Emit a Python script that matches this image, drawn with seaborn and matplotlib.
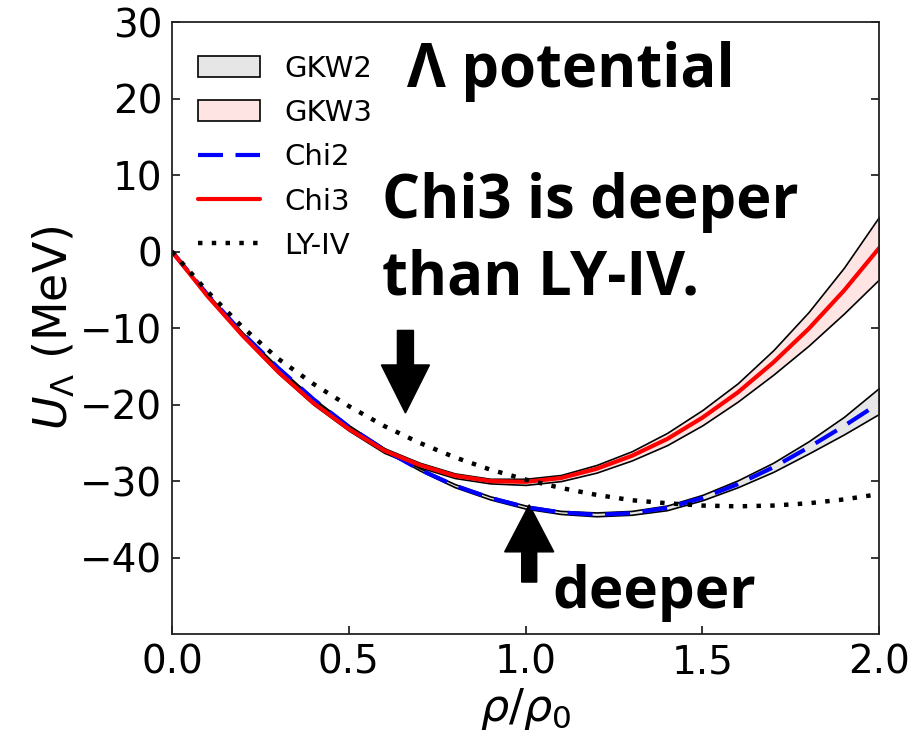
import numpy as np
import matplotlib
matplotlib.use("Agg")
import matplotlib.pyplot as plt
from matplotlib import font_manager as fm
import seaborn as sns
import pandas as pd

# density grid rho/rho0
rho = [0.0, 0.1, 0.2, 0.3, 0.4, 0.5, 0.6, 0.7, 0.8, 0.9, 1.0,
       1.1, 1.2, 1.3, 1.4, 1.5, 1.6, 1.7, 1.8, 1.9, 2.0]

# Chi2 / GKW2 band (MeV)
chi2 = [0.0, -5.6, -10.7, -15.2, -19.3, -22.9, -25.9, -28.5, -30.6, -32.2, -33.4,
        -34.1, -34.4, -34.2, -33.5, -32.2, -30.4, -28.2, -25.6, -22.8, -19.8]
gkw2_hi = [0.0, -5.5, -10.6, -15.1, -19.2, -22.7, -25.7, -28.3, -30.4, -32.0, -33.2,
           -33.9, -34.1, -33.9, -33.2, -31.8, -29.9, -27.6, -24.8, -21.6, -17.8]
gkw2_lo = [0.0, -5.7, -10.8, -15.3, -19.4, -23.0, -26.0, -28.6, -30.8, -32.4, -33.6,
           -34.3, -34.6, -34.4, -33.8, -32.5, -30.8, -28.8, -26.4, -23.9, -21.2]

# Chi3 / GKW3 band (MeV)
chi3 = [0.0, -5.8, -11.0, -15.7, -19.8, -23.2, -26.0, -27.9, -29.3, -30.0, -30.1,
        -29.6, -28.4, -26.7, -24.5, -21.7, -18.4, -14.5, -10.1, -5.1, 0.5]
gkw3_hi = [0.0, -5.7, -10.9, -15.5, -19.6, -23.0, -25.7, -27.6, -29.0, -29.7, -29.7,
           -29.2, -27.9, -26.1, -23.7, -20.7, -17.2, -12.9, -7.9, -2.1, 4.6]
gkw3_lo = [0.0, -5.9, -11.1, -15.9, -20.0, -23.4, -26.3, -28.2, -29.6, -30.3, -30.5,
           -30.0, -28.9, -27.3, -25.3, -22.7, -19.6, -16.1, -12.3, -8.1, -3.6]

# LY-IV (MeV)
ly4 = [0.0, -5.2, -9.9, -14.0, -17.3, -20.2, -22.8, -25.0, -26.9, -28.5, -29.8,
       -30.9, -31.8, -32.5, -32.9, -33.2, -33.3, -33.2, -32.9, -32.4, -31.7]

df = pd.DataFrame({"rho": rho, "chi2": chi2, "chi3": chi3, "ly4": ly4})

sns.set_style("ticks")
plt.rcParams['font.family'] = ['DejaVu Sans']
plt.rcParams['mathtext.fontset'] = 'dejavusans'
for k in ['text.color', 'axes.labelcolor', 'xtick.color', 'ytick.color']:
    plt.rcParams[k] = 'black'

# pick a family that really has a bold face
bold_family = "DejaVu Sans"
for fam in ["Open Sans", "Noto Sans", "Lato", "Roboto", "Liberation Sans"]:
    try:
        path = fm.findfont(fm.FontProperties(family=fam, weight="bold"),
                           fallback_to_default=False)
        if "bold" in path.lower():
            bold_family = fam
            break
    except Exception:
        pass

fig = plt.figure(figsize=(9.15, 7.39), dpi=100)
ax = fig.add_axes([0.188, 0.142, 0.773, 0.828])

ax.fill_between(rho, gkw2_lo, gkw2_hi, facecolor="#e6e6e6", edgecolor="black",
                linewidth=1.2, label="GKW2")
ax.fill_between(rho, gkw3_lo, gkw3_hi, facecolor="#ffe4e4", edgecolor="black",
                linewidth=1.2, label="GKW3")

sns.lineplot(data=df, x="rho", y="chi2", ax=ax, color="blue", linewidth=3,
             label="Chi2")
ax.lines[-1].set_dashes((6, 3))
sns.lineplot(data=df, x="rho", y="chi3", ax=ax, color="red", linewidth=3,
             label="Chi3")
sns.lineplot(data=df, x="rho", y="ly4", ax=ax, color="black", linewidth=3.2,
             label="LY-IV")
ax.lines[-1].set_dashes((1, 2.1))

ax.set_xlim(0, 2.0)
ax.set_ylim(-50, 30)
ax.set_xticks([0.0, 0.5, 1.0, 1.5, 2.0])
ax.set_yticks([-40, -30, -20, -10, 0, 10, 20, 30])
ax.tick_params(direction="in", length=6, width=1.1, labelsize=28, pad=7,
               right=True, top=False)
for s in ax.spines.values():
    s.set_linewidth(1.3)
    s.set_color("#222222")

ax.set_xlabel(r"$\rho/\rho_0$", fontsize=32, labelpad=3)
ax.set_ylabel(r"$U_\Lambda$ (MeV)", fontsize=33, labelpad=2)

ax.legend(loc="upper left", bbox_to_anchor=(0.0, 0.99), frameon=False,
          fontsize=21, handlelength=2.1, handleheight=0.75,
          handletextpad=0.85, labelspacing=0.56, borderaxespad=0.5)

# arrows
ax.arrow(0.66, -10.3, 0, -10.8, width=16 / 353, head_width=48 / 353,
         head_length=48 / 7.64, length_includes_head=True, color="black")
ax.arrow(1.01, -43.2, 0, 10.1, width=15 / 353, head_width=49 / 353,
         head_length=47 / 7.64, length_includes_head=True, color="black")

big = dict(fontsize=43, fontweight="bold", family=[bold_family, "DejaVu Sans"],
           va="baseline", ha="left", color="black")
ax.text(0.665, 21.5, "Λ potential", **big)
ax.text(0.595, 4.45, "Chi3 is deeper", **big)
ax.text(0.595, -5.6, "than LY-IV.", **big)
ax.text(1.075, -46.6, "deeper", fontsize=42, fontweight="bold",
        family=[bold_family, "DejaVu Sans"], va="baseline", ha="left")

fig.savefig("out.png", dpi=100)
